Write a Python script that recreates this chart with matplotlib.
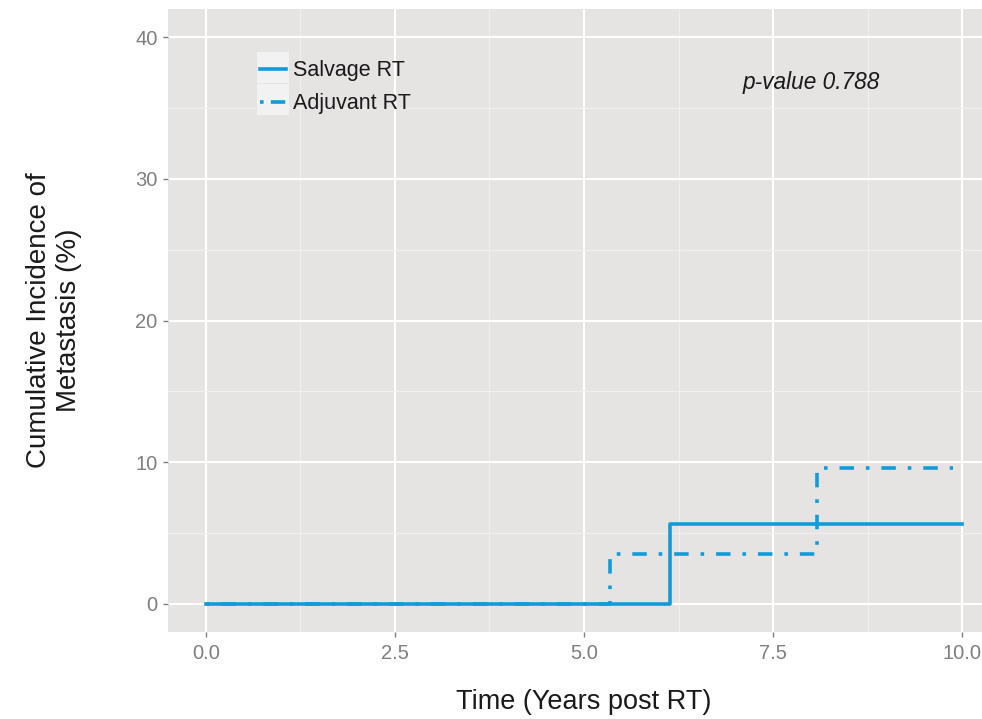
import matplotlib
matplotlib.use("Agg")
import matplotlib.pyplot as plt
from matplotlib.lines import Line2D
from matplotlib.patches import Rectangle

# ---- data ----
salvage_t = [0.0, 6.14, 10.0]
salvage_ci = [0.0, 5.6, 5.6]
adjuvant_t = [0.0, 5.35, 8.08, 9.88]
adjuvant_ci = [0.0, 3.5, 9.6, 9.6]
series_labels = ["Salvage RT", "Adjuvant RT"]
x_ticks = [0.0, 2.5, 5.0, 7.5, 10.0]
x_tick_labels = ["0.0", "2.5", "5.0", "7.5", "10.0"]
y_ticks = [0, 10, 20, 30, 40]
y_tick_labels = ["0", "10", "20", "30", "40"]
p_text = "p-value 0.788"

# ---- style ----
plt.rcParams['font.family'] = ['Liberation Sans', 'DejaVu Sans']
blue = "#129bd9"
panel_bg = "#e6e3e3"
grid_major = "#ffffff"
grid_minor = "#f0eeee"
tick_grey = "#7f7f7f"
lw = 2.6
dotdash = (0, (1.0, 3.3, 4.0, 3.3))

fig = plt.figure(figsize=(9.82, 7.19), dpi=100)
W, H = 982, 719
ax = fig.add_axes([168 / W, (H - 632) / H, 832 / W, 623 / H])
ax.set_facecolor(panel_bg)
for s in ax.spines.values():
    s.set_visible(False)

ax.set_xlim(-0.5, 10.5)
ax.set_ylim(-2, 42)
ax.set_xticks(x_ticks)
ax.set_xticklabels(x_tick_labels)
ax.set_yticks(y_ticks)
ax.set_yticklabels(y_tick_labels)
ax.set_xticks([1.25, 3.75, 6.25, 8.75], minor=True)
ax.set_yticks([5, 15, 25, 35], minor=True)
ax.grid(True, which='major', color=grid_major, lw=1.5)
ax.grid(True, which='minor', color=grid_minor, lw=0.9)
ax.set_axisbelow(True)
ax.tick_params(axis='both', which='major', length=3.6, width=1.0,
               color=tick_grey, labelcolor=tick_grey, labelsize=14.5)
ax.tick_params(axis='x', which='major', pad=5)
ax.tick_params(axis='y', which='major', pad=4)
ax.tick_params(axis='both', which='minor', length=0)

ax.step(adjuvant_t, adjuvant_ci, where='post', color=blue, lw=lw,
        linestyle=dotdash, label=series_labels[1])
ax.step(salvage_t, salvage_ci, where='post', color=blue, lw=lw,
        linestyle='-', label=series_labels[0])

ax.text(8.0, 36.8, p_text, fontsize=16.3, style='italic', color='#1a1a1a',
        ha='center', va='center')

ax.set_xlabel("Time (Years post RT)", fontsize=19.5, color='#1a1a1a', labelpad=19)
ax.set_ylabel("Cumulative Incidence of\nMetastasis (%)", fontsize=20,
              color='#1a1a1a', labelpad=38, linespacing=1.2)

# legend key backgrounds
for y0 in (52, 84):
    fig.add_artist(Rectangle((257 / W, 1 - (y0 + 31) / H), 32 / W, 31 / H,
                             transform=fig.transFigure, facecolor="#f2f2f2",
                             edgecolor='none', zorder=5))

handles = [Line2D([], [], color=blue, lw=lw, linestyle='-'),
           Line2D([], [], color=blue, lw=lw, linestyle=(0, (1.0, 2.0, 4.0, 2.0)))]
leg = fig.legend(handles, series_labels, loc='upper left',
                 bbox_to_anchor=(256 / W, 1 - 56 / H), frameon=False,
                 fontsize=15.5, handlelength=1.2, handletextpad=0.3,
                 labelspacing=0.55, borderpad=0.2, borderaxespad=0)
leg.set_zorder(6)
for t in leg.get_texts():
    t.set_color('#1a1a1a')

fig.savefig("out.png", dpi=100)
